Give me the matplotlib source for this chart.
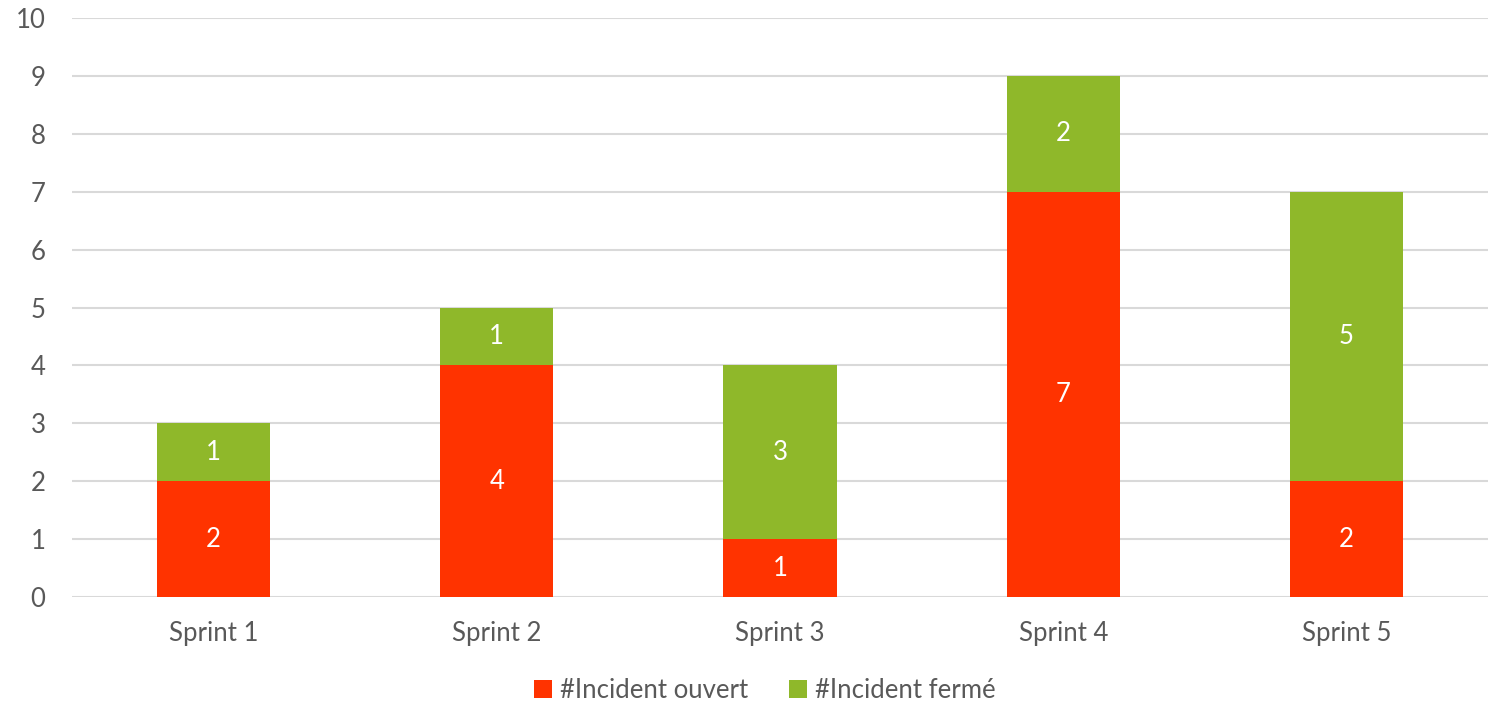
import numpy as np
import matplotlib.pyplot as plt

# Data
sprints = ["Sprint 1", "Sprint 2", "Sprint 3", "Sprint 4", "Sprint 5"]
ouvert = [2, 4, 1, 7, 2]
ferme = [1, 1, 3, 2, 5]

RED = "#FF3300"
GREEN = "#8FB82A"
TEXT = "#595959"
FS = 18.5

plt.rcParams["font.family"] = ["Lato", "DejaVu Sans"]

fig = plt.figure(figsize=(14.88, 7.02), dpi=100)
ax = fig.add_axes([72 / 1488, 1 - 597 / 702, (1488 - 72) / 1488, (597 - 18) / 702])

x = np.arange(len(sprints))
w = 0.4
b1 = ax.bar(x, ouvert, width=w, color=RED, label="#Incident ouvert", zorder=3)
b2 = ax.bar(x, ferme, width=w, bottom=ouvert, color=GREEN, label="#Incident fermé", zorder=3)

for bars, vals in ((b1, ouvert), (b2, ferme)):
    for rect, v in zip(bars, vals):
        ax.text(rect.get_x() + rect.get_width() / 2, rect.get_y() + rect.get_height() / 2,
                str(v), ha="center", va="center", color="white", fontsize=FS, zorder=4)

ax.set_xlim(-0.5, len(sprints) - 0.5)
ax.set_ylim(0, 10)
ax.set_yticks(range(0, 11))
ax.set_xticks(x)
ax.set_xticklabels(sprints)
ax.tick_params(axis="both", length=0, colors=TEXT, labelsize=FS)
ax.tick_params(axis="y", pad=19)
ax.tick_params(axis="x", pad=17)

ax.grid(axis="y", color="#D9D9D9", linewidth=1.5, zorder=0)
for s in ax.spines.values():
    s.set_visible(False)

fig.legend(handles=[b1, b2], loc="center", bbox_to_anchor=(765 / 1488, 1 - 690 / 702),
           ncol=2, frameon=False, fontsize=FS, labelcolor=TEXT,
           handlelength=0.7, handleheight=0.7, handletextpad=0.3, columnspacing=1.6)

fig.savefig("out.png", dpi=100)
